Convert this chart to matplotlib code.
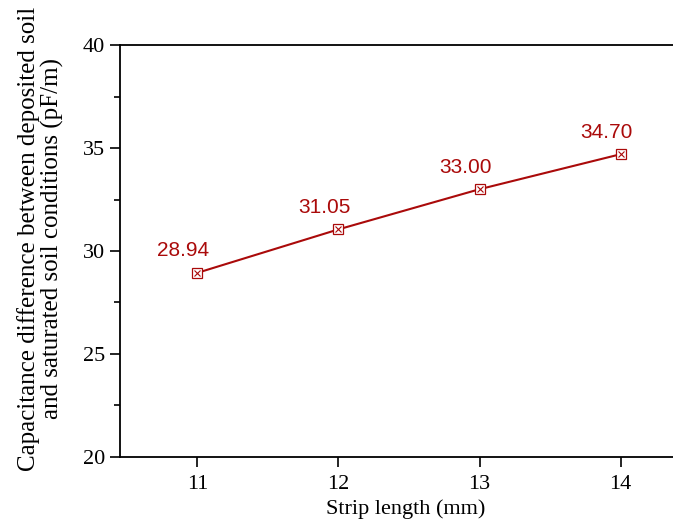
import matplotlib.pyplot as plt
from matplotlib.ticker import MultipleLocator

# data
strip_len = [11, 12, 13, 14]
cap_diff = [28.94, 31.05, 33.00, 34.70]
labels = ['28.94', '31.05', '33.00', '34.70']

red = '#aa0a0a'
plt.rcParams['font.family'] = ['Liberation Serif', 'DejaVu Serif']

fig = plt.figure(figsize=(6.73, 5.24), dpi=100)
ax = fig.add_axes([0.178, 0.128, 0.849, 0.786])

ax.plot(strip_len, cap_diff, color=red, lw=1.5, zorder=2)
ax.plot(strip_len, cap_diff, ls='none', marker='s', ms=7, mfc='white',
        mec=red, mew=0.9, zorder=3)
ax.plot(strip_len, cap_diff, ls='none', marker='x', ms=5, mec=red,
        mew=0.8, zorder=4)

for x, y, t in zip(strip_len, cap_diff, labels):
    ax.annotate(t, (x, y), xytext=(-10, 9), textcoords='offset points',
                ha='center', va='bottom', color=red, fontsize=15,
                family='Liberation Sans')

ax.set_xlim(10.45, 14.5)
ax.set_ylim(20, 40)
ax.set_xticks(strip_len)
ax.yaxis.set_major_locator(MultipleLocator(5))
ax.yaxis.set_minor_locator(MultipleLocator(2.5))
ax.tick_params(which='both', direction='out', labelsize=16, width=1.2)
ax.tick_params(which='major', length=7)
ax.tick_params(which='minor', length=4)
ax.tick_params(axis='x', pad=6)
for s in ax.spines.values():
    s.set_linewidth(1.3)

ax.set_xlabel('Strip length (mm)', fontsize=16, labelpad=4)
ax.set_ylabel('Capacitance difference between deposited soil\n'
              'and saturated soil conditions (pF/m)', fontsize=18,
              labelpad=14, linespacing=1.0)
ax.yaxis.label.set_y(0.53)

fig.savefig('out.png', dpi=100)
